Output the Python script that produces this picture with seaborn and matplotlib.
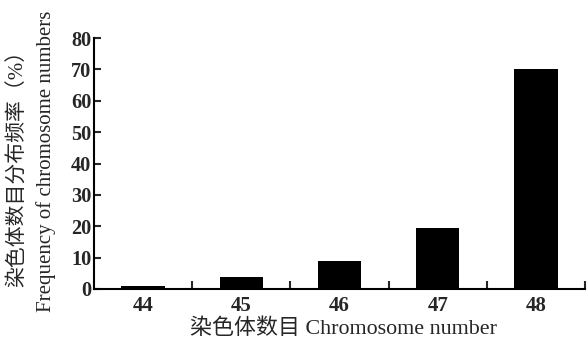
import matplotlib
matplotlib.use("Agg")
import matplotlib.pyplot as plt
import seaborn as sns
import pandas as pd
from matplotlib.ticker import FixedLocator

# data
chromosome_numbers = ["44", "45", "46", "47", "48"]
frequency_pct = [0.8, 3.9, 9.0, 19.6, 70.0]
y_ticks = [0, 10, 20, 30, 40, 50, 60, 70, 80]

ylabel_cn = "染色体数目分布频率（%）"
ylabel_en = "Frequency of chromosome numbers"
xlabel_text = "染色体数目 Chromosome number"

sns.set_style("ticks")
fonts = ["Liberation Serif", "Noto Sans CJK SC", "DejaVu Sans"]
plt.rcParams["font.family"] = fonts

df = pd.DataFrame({"number": chromosome_numbers, "freq": frequency_pct})

fig = plt.figure(figsize=(5.88, 3.39), dpi=100)
ax = fig.add_axes([94 / 588, 50 / 339, (585 - 94) / 588, (289 - 38) / 339])

sns.barplot(data=df, x="number", y="freq", color="black", saturation=1,
            width=0.44, edgecolor="black", linewidth=0, ax=ax)

ax.set_xlim(-0.5, 4.5)
ax.set_ylim(0, 80)
ax.set_yticks(y_ticks)
ax.set_xlabel("")
ax.set_ylabel("")

for side in ["top", "right"]:
    ax.spines[side].set_visible(False)
for side in ["left", "bottom"]:
    ax.spines[side].set_linewidth(1.5)
    ax.spines[side].set_color("black")

# category separators drawn as inward minor ticks
ax.xaxis.set_minor_locator(FixedLocator([0.5, 1.5, 2.5, 3.5, 4.5]))
ax.tick_params(axis="x", which="major", length=0, pad=5, labelsize=15)
ax.tick_params(axis="x", which="minor", direction="in", length=6, width=1.5)
ax.tick_params(axis="y", direction="in", length=5, width=1.5, pad=2,
               labelsize=14.6)

for lab in ax.get_xticklabels() + ax.get_yticklabels():
    lab.set_fontweight("bold")

fig.text(18 / 588, 1 - 163 / 339, ylabel_cn, rotation=90, ha="center",
         va="center", fontsize=15, family=fonts)
fig.text(46 / 588, 1 - 161 / 339, ylabel_en, rotation=90, ha="center",
         va="center", fontsize=15, family=fonts)
fig.text(344 / 588, 1 - 329 / 339, xlabel_text, ha="center", va="center",
         fontsize=15.8, family=fonts)

fig.savefig("out.png", dpi=100)
